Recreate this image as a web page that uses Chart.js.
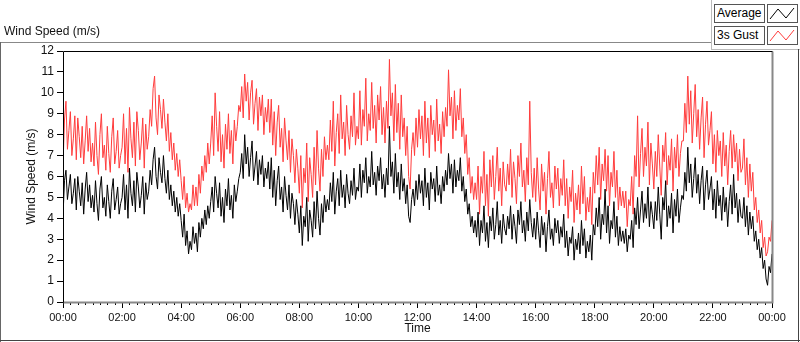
<!DOCTYPE html>
<html>
<head>
<meta charset="utf-8">
<script src="https://cdn.jsdelivr.net/npm/chart.js@4.4.1/dist/chart.umd.min.js"></script>
<style>
  body { margin: 0; background: #fff; font-family: "Liberation Sans", Arial, sans-serif; }
  #wrap { position: relative; width: 800px; height: 342px; overflow: hidden; }
  #chart { position: absolute; left: 0; top: 0; }
  .title { position: absolute; left: 4px; top: 24px; font-size: 12px; color: #111; }
  .line { position: absolute; background: #888; }
  .lgText { position: absolute; left: 714px; width: 47px; height: 17px; border: 1px solid #555;
            font-size: 12px; line-height: 17px; padding-left: 2px; box-sizing: content-box; background: #fff; }
  .lgIcon { position: absolute; left: 767px; width: 29px; height: 17px; border: 1px solid #555; background: #fff; }
</style>
</head>
<body>
<div id="wrap">
  <canvas id="chart" width="800" height="342"></canvas>
  <div class="title">Wind Speed (m/s)</div>
  <!-- panel frame -->
  <div class="line" style="left:0;top:42px;width:712px;height:1px"></div>
  <div class="line" style="left:711px;top:0;width:1px;height:50px;background:#bbb"></div>
  <div class="line" style="left:711px;top:49px;width:89px;height:1px;background:#bbb"></div>
  <div class="line" style="left:0;top:42px;width:1px;height:300px;background:#666"></div>
  <div class="line" style="left:798px;top:49px;width:1px;height:293px;background:#444"></div>
  <div class="line" style="left:0;top:340px;width:800px;height:1px;background:#444"></div>
  <!-- legend -->
  <div class="lgText" style="top:4px">Average</div>
  <div class="lgIcon" style="top:4px"><svg width="29" height="17"><polyline points="2,14 10,4 18,13 26,3" fill="none" stroke="#000" stroke-width="1"/></svg></div>
  <div class="lgText" style="top:26px">3s Gust</div>
  <div class="lgIcon" style="top:26px"><svg width="29" height="17"><polyline points="2,14 10,4 18,13 26,3" fill="none" stroke="#ff3c3c" stroke-width="1"/></svg></div>
</div>
<script>
// sample spacing of the logged data (minutes)
const stepMinutes = 3;

// average wind speed, one row per hour (m/s)
const average = [
  4.1,5.8,6.3,4.9,5.5,6.1,4.7,5.2,5.9,4.4,6.0,5.3,4.6,5.7,4.2,5.4,6.2,4.8,5.6,4.5,
  5.1,4.3,5.8,4.7,3.9,5.4,6.0,4.5,5.0,4.1,5.6,4.8,4.0,5.3,5.9,4.4,4.9,5.5,4.2,4.7,
  5.0,6.1,4.4,5.6,4.0,6.4,5.2,4.6,5.8,4.3,6.2,5.5,4.5,5.1,6.0,4.2,5.7,4.9,5.3,6.3,
  5.6,6.8,7.4,6.0,5.4,6.9,6.2,5.7,7.0,5.9,5.2,6.3,4.9,5.6,4.6,5.3,4.3,5.0,4.1,4.7,
  3.9,3.1,4.2,2.7,3.4,2.3,2.9,2.5,3.6,2.8,3.3,2.4,3.8,3.1,4.0,3.5,4.4,3.7,4.6,4.0,
  4.8,5.5,4.3,6.0,5.2,4.5,5.7,4.1,5.0,3.8,5.4,4.6,5.9,4.4,5.1,4.0,5.6,4.8,5.3,5.9,
  6.2,7.1,5.9,8.0,6.6,7.4,6.0,6.9,7.7,5.8,6.5,7.2,5.6,6.8,6.1,7.0,5.5,6.4,5.9,6.7,
  5.4,6.9,5.0,6.3,4.6,5.8,6.5,4.9,5.5,4.3,6.0,5.1,4.4,5.6,4.0,5.2,4.7,3.7,4.9,4.2,
  3.3,4.6,2.7,4.1,3.6,5.0,2.9,4.4,3.9,3.1,4.8,3.5,5.3,4.0,3.2,4.7,3.8,5.1,4.3,4.9,
  4.4,5.7,4.8,6.2,4.2,5.3,5.9,4.6,6.3,5.0,5.6,4.5,6.1,5.2,4.7,5.8,5.1,6.4,4.9,5.5,
  5.3,6.6,5.0,6.3,5.7,6.9,5.2,6.0,5.5,7.2,5.6,6.2,5.1,6.5,5.8,6.9,5.4,6.1,5.0,6.4,
  5.6,8.4,6.0,6.7,5.2,7.1,5.5,6.2,4.9,6.6,5.3,5.9,4.7,5.6,4.1,3.8,4.9,5.4,4.6,5.8,
  4.9,6.1,5.2,5.8,4.6,6.4,5.0,5.7,4.4,6.2,5.4,5.9,4.8,6.5,5.1,5.6,4.7,6.0,5.3,6.3,
  5.6,7.1,5.9,6.6,5.2,6.8,5.5,6.3,5.8,6.9,5.3,6.0,4.8,5.4,4.2,4.7,3.6,4.1,3.3,3.9,
  3.1,4.3,2.7,3.9,3.3,4.6,2.9,3.8,2.6,4.1,3.4,4.5,3.0,3.7,4.8,3.2,3.9,2.8,4.2,3.5,
  3.2,4.1,3.5,4.6,3.0,4.2,3.6,2.8,4.4,3.7,4.8,3.3,3.9,2.9,4.3,3.4,4.9,3.8,3.1,4.0,
  3.0,4.3,3.4,2.6,4.1,3.2,3.8,2.4,3.6,4.4,3.0,3.5,2.7,4.0,3.3,3.9,2.8,3.6,3.1,4.2,
  2.6,3.4,2.2,3.1,2.8,3.6,2.0,3.0,2.5,3.3,2.3,3.9,2.7,3.5,2.1,2.9,2.4,3.2,2.0,3.7,
  3.2,4.5,3.6,5.0,3.0,4.2,3.7,5.4,3.3,4.6,2.8,3.9,3.5,4.8,3.1,4.1,2.7,3.6,2.9,3.4,
  2.8,3.5,2.4,3.2,3.0,3.9,2.6,4.5,3.7,5.0,3.5,4.4,5.3,3.8,4.7,4.0,5.5,3.6,4.8,4.2,
  3.5,4.8,3.9,5.5,4.2,3.0,5.0,4.4,5.8,3.6,4.6,4.0,5.2,3.3,4.9,4.1,5.4,3.8,4.5,5.1,
  4.9,6.2,5.3,7.4,5.7,6.6,5.0,5.9,6.9,5.2,6.1,4.7,5.8,6.5,4.4,5.6,6.3,4.9,5.4,6.0,
  4.4,5.4,4.0,5.8,4.6,5.1,3.9,5.5,4.3,5.0,3.6,4.8,5.6,4.2,6.1,4.5,5.2,3.8,4.9,4.1,
  4.0,5.0,3.6,4.6,3.2,4.3,3.5,4.1,2.9,3.4,2.5,3.0,2.1,2.6,1.6,2.0,1.1,0.8,1.7,1.4,
  2.3
];

// 3 second gust (m/s)
const gust = [
  6.5,8.7,9.6,7.3,8.2,9.1,7.0,7.8,8.9,6.8,8.8,7.9,6.9,8.4,6.6,7.7,8.9,7.2,8.3,6.7,
  7.6,6.5,8.6,7.0,6.1,8.0,9.0,6.9,7.5,6.3,8.4,7.1,6.2,7.9,8.8,6.6,7.2,8.2,6.4,7.0,
  7.4,9.0,6.6,8.3,6.2,9.3,7.8,6.9,8.6,6.5,9.1,8.2,6.8,7.6,8.8,6.4,8.5,7.3,7.9,9.2,
  8.4,10.2,10.8,8.8,8.0,9.9,9.2,8.3,9.7,8.6,7.7,9.0,7.2,8.1,6.8,7.6,6.3,7.1,6.0,6.8,
  5.8,4.9,6.0,4.5,5.2,4.3,4.7,4.4,5.6,4.6,5.5,4.6,6.1,5.2,6.5,5.8,7.0,6.2,7.6,6.6,
  7.6,8.9,7.0,10.0,8.4,7.2,9.1,6.7,8.0,6.4,8.5,7.3,9.0,7.1,8.2,6.6,8.7,7.7,8.4,9.4,
  9.1,10.3,8.8,10.9,9.6,10.5,8.7,10.0,10.6,8.5,9.5,10.2,8.2,9.8,8.9,9.9,8.0,9.3,8.6,9.7,
  8.1,9.7,7.5,9.1,7.0,8.6,9.4,7.4,8.3,6.7,8.8,7.7,6.8,8.2,6.2,7.8,7.0,5.7,7.3,6.4,
  5.2,7.0,4.5,6.4,5.7,7.6,4.8,6.9,6.1,5.0,7.4,5.6,8.2,6.4,5.3,7.3,6.0,7.9,6.8,7.5,
  6.8,8.7,7.2,9.6,6.5,8.1,9.0,7.1,9.9,7.8,8.6,7.0,9.4,8.0,7.3,8.9,7.9,10.0,7.5,8.4,
  7.8,10.1,7.5,9.2,8.4,10.7,7.7,9.0,8.2,10.5,8.3,9.4,7.6,9.9,8.7,10.3,8.0,9.3,7.6,9.6,
  8.3,11.6,8.9,10.0,7.7,10.4,8.1,9.5,7.3,9.9,7.9,8.8,7.0,8.4,6.0,5.4,7.3,8.1,7.0,8.8,
  7.4,9.2,7.8,8.9,7.0,9.6,7.6,8.8,6.9,9.4,8.0,8.7,7.2,9.7,7.7,8.5,7.1,9.1,7.9,9.3,
  8.4,11.1,8.9,9.8,7.8,10.1,8.2,9.4,8.7,10.2,7.9,8.8,7.1,8.0,6.1,6.9,5.2,6.0,4.9,5.7,
  4.9,6.5,4.2,6.0,5.2,7.2,4.6,6.1,4.1,6.8,5.5,7.0,4.9,6.0,7.4,5.3,6.4,4.6,6.7,5.6,
  5.3,6.6,5.6,7.3,5.0,6.7,5.9,4.7,7.0,6.0,7.6,5.5,6.3,4.8,6.9,5.6,9.6,6.2,5.0,6.4,
  4.8,6.9,5.4,4.4,6.6,5.3,6.2,4.2,5.9,7.2,5.0,5.7,4.5,6.5,5.4,6.4,4.6,5.9,5.1,6.8,
  4.6,5.9,4.0,5.5,4.8,6.3,3.8,5.2,4.4,5.6,4.2,6.5,4.7,6.0,3.9,5.0,4.3,5.5,3.7,6.2,
  5.2,7.0,5.6,7.4,4.9,6.6,5.8,7.3,5.3,7.0,4.6,6.2,5.5,7.2,5.0,6.3,4.4,5.5,4.6,5.3,
  4.5,5.3,3.6,4.9,4.6,6.0,4.2,7.0,6.0,8.9,5.5,7.1,8.3,6.0,7.4,6.5,8.6,5.6,7.6,6.6,
  5.4,7.2,6.0,8.0,6.5,5.1,7.5,6.7,8.1,5.6,7.0,6.3,7.8,5.3,7.4,6.4,8.0,6.0,7.1,7.7,
  7.7,9.5,8.1,10.8,8.5,10.1,7.6,9.0,10.4,7.9,9.2,7.3,8.8,9.8,6.9,8.5,9.6,7.5,8.2,9.1,
  6.6,8.0,6.2,8.2,7.0,7.7,6.0,8.1,6.5,7.5,5.6,7.2,8.2,6.4,8.0,6.7,7.6,5.8,7.3,6.2,
  6.4,7.8,5.6,6.9,5.0,6.6,5.3,6.2,4.4,5.0,3.8,4.4,3.3,3.9,2.6,3.1,2.2,2.4,3.1,2.9,
  3.9
];

// axis ticks
const xTickMinutes = [0, 120, 240, 360, 480, 600, 720, 840, 960, 1080, 1200, 1320, 1440];
const xTickLabels = ['00:00', '02:00', '04:00', '06:00', '08:00', '10:00', '12:00',
                     '14:00', '16:00', '18:00', '20:00', '22:00', '00:00'];
const yTicks = [0, 1, 2, 3, 4, 5, 6, 7, 8, 9, 10, 11, 12];

const toPoints = arr => arr.map((v, i) => ({ x: i * stepMinutes, y: v }));

// plot frame + 15 minute minor ticks
const framePlugin = {
  id: 'frame',
  afterDraw(chart) {
    const { ctx, chartArea: a, scales } = chart;
    ctx.save();
    ctx.lineWidth = 1;
    ctx.strokeStyle = '#000';
    ctx.beginPath();
    for (let m = 15; m < 1440; m += 15) {
      if (m % 120 === 0) continue;
      const px = Math.round(scales.x.getPixelForValue(m)) + 0.5;
      ctx.moveTo(px, a.bottom);
      ctx.lineTo(px, a.bottom + 3);
    }
    ctx.stroke();
    const l = Math.round(a.left) + 0.5, t = Math.round(a.top) + 0.5;
    const r = Math.round(a.right) + 0.5, b = Math.round(a.bottom) + 0.5;
    ctx.strokeStyle = '#888';
    ctx.lineWidth = 2;
    ctx.beginPath();
    ctx.moveTo(l, b); ctx.lineTo(r, b); ctx.lineTo(r, t);
    ctx.stroke();
    ctx.strokeStyle = '#000';
    ctx.lineWidth = 1;
    ctx.beginPath();
    ctx.moveTo(l, b); ctx.lineTo(l, t); ctx.lineTo(r, t);
    ctx.stroke();
    ctx.restore();
  }
};

new Chart(document.getElementById('chart'), {
  type: 'line',
  data: {
    datasets: [
      { label: 'Average', data: toPoints(average), borderColor: '#000', borderWidth: 1, pointRadius: 0, tension: 0 },
      { label: '3s Gust', data: toPoints(gust), borderColor: '#ff3c3c', borderWidth: 1, pointRadius: 0, tension: 0 }
    ]
  },
  options: {
    responsive: false,
    animation: false,
    events: [],
    layout: { padding: { left: 0, top: 51, right: 28, bottom: 0 } },
    plugins: { legend: { display: false }, tooltip: { enabled: false } },
    scales: {
      x: {
        type: 'linear',
        min: 0,
        max: 1440,
        afterFit: s => { s.height = 40; },
        afterBuildTicks: s => { s.ticks = xTickMinutes.map(v => ({ value: v })); },
        grid: { drawOnChartArea: false, tickLength: 6, tickColor: '#000' },
        border: { display: false },
        ticks: {
          autoSkip: false, maxRotation: 0, padding: 3, color: '#111',
          font: { family: 'Liberation Sans', size: 11 },
          callback: v => xTickLabels[xTickMinutes.indexOf(v)]
        },
        title: { display: true, text: 'Time', color: '#111', padding: { top: 0, bottom: 6 },
                 font: { family: 'Liberation Sans', size: 12 } }
      },
      y: {
        min: 0,
        max: 12,
        afterFit: s => { s.width = 63; },
        afterBuildTicks: s => { s.ticks = yTicks.map(v => ({ value: v })); },
        grid: { drawOnChartArea: false, tickLength: 6, tickColor: '#000' },
        border: { display: false },
        ticks: { padding: 3, color: '#111', font: { family: 'Liberation Sans', size: 12 } },
        title: { display: true, text: 'Wind Speed (m/s)', color: '#111', padding: { top: 24, bottom: 0 },
                 font: { family: 'Liberation Sans', size: 12 } }
      }
    }
  },
  plugins: [framePlugin]
});
</script>
</body>
</html>
